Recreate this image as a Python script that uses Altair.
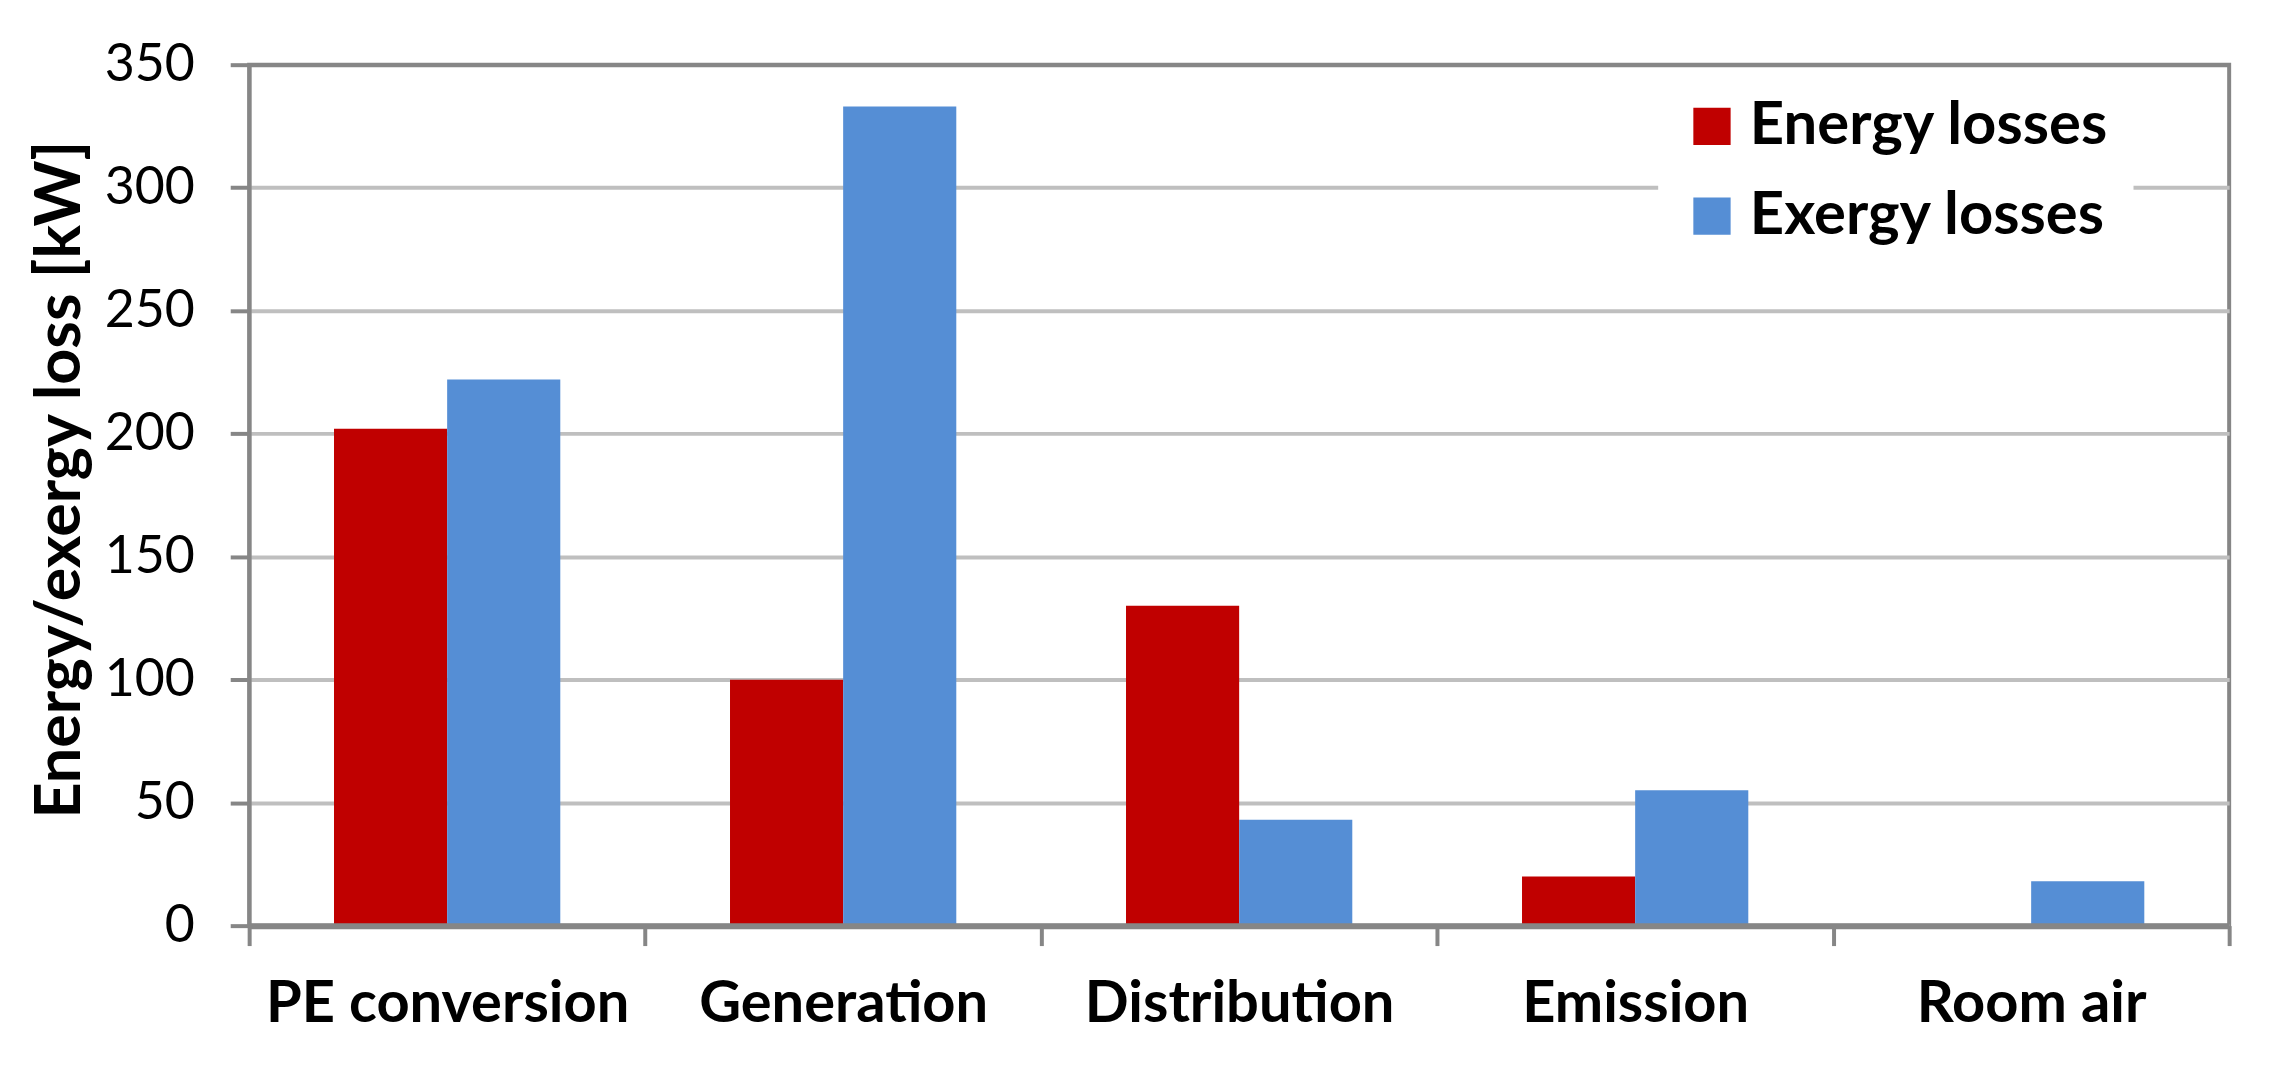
import altair as alt
import pandas as pd

categories = ["PE conversion", "Generation", "Distribution", "Emission", "Room air"]
series = ["Energy losses", "Exergy losses"]
energy_losses = [202, 100, 130, 20, 0]
exergy_losses = [222, 333, 43, 55, 18]
colors = ["#C00000", "#558ED5"]
y_ticks = [0, 50, 100, 150, 200, 250, 300, 350]

rows = []
for c, e, x in zip(categories, energy_losses, exergy_losses):
    rows.append({"category": c, "series": series[0], "value": e})
    rows.append({"category": c, "series": series[1], "value": x})
df = pd.DataFrame(rows)

FONT = "Lato"
AXIS_GRAY = "#868686"
GRID_GRAY = "#BFBFBF"

chart = alt.Chart(df).mark_bar().encode(
    x=alt.X(
        "category:N",
        sort=categories,
        scale=alt.Scale(paddingInner=0, paddingOuter=0),
        axis=alt.Axis(
            title=None,
            labelAngle=0,
            tickBand="extent",
            labelFont=FONT,
            labelFontSize=58,
            labelFontWeight="bold",
            labelColor="black",
            labelPadding=30,
            labelLimit=0,
            domainColor=AXIS_GRAY,
            domainWidth=6,
            tickColor=AXIS_GRAY,
            tickWidth=4,
            tickSize=20,
            grid=False,
            zindex=1,
        ),
    ),
    xOffset=alt.XOffset(
        "series:N",
        sort=series,
        scale=alt.Scale(paddingInner=0, paddingOuter=0.75),
    ),
    y=alt.Y(
        "value:Q",
        scale=alt.Scale(domain=[0, 350], nice=False),
        axis=alt.Axis(
            title="Energy/exergy loss [kW]",
            values=y_ticks,
            titleFont=FONT,
            titleFontSize=63,
            titleFontWeight="bold",
            titleColor="black",
            titlePadding=12,
            titleY=416,
            labelFont=FONT,
            labelFontSize=52,
            labelFontWeight="normal",
            labelColor="black",
            labelPadding=36,
            domainColor=AXIS_GRAY,
            domainWidth=4,
            tickColor=AXIS_GRAY,
            tickWidth=4,
            tickSize=19,
            grid=True,
            gridColor={"condition": {"test": "datum.value === 350", "value": AXIS_GRAY}, "value": GRID_GRAY},
            gridWidth=4,
        ),
    ),
    color=alt.Color(
        "series:N",
        scale=alt.Scale(domain=series, range=colors),
        legend=alt.Legend(
            title=None,
            orient="none",
            legendX=1414,
            legendY=8,
            fillColor="white",
            padding=24,
            symbolType="square",
            symbolSize=1400,
            symbolStrokeWidth=0,
            labelFont=FONT,
            labelFontSize=60,
            labelFontWeight="bold",
            labelColor="black",
            labelOffset=8,
            rowPadding=30,
            labelLimit=600,
        ),
    ),
).properties(
    width=1987,
    height=864,
    autosize=alt.AutoSizeParams(type="none"),
    padding={"left": 242, "top": 55, "right": 45, "bottom": 147},
).configure_view(
    stroke=AXIS_GRAY,
    strokeWidth=4,
)

chart.save("out.html", embed_options={"renderer": "svg", "actions": False})
